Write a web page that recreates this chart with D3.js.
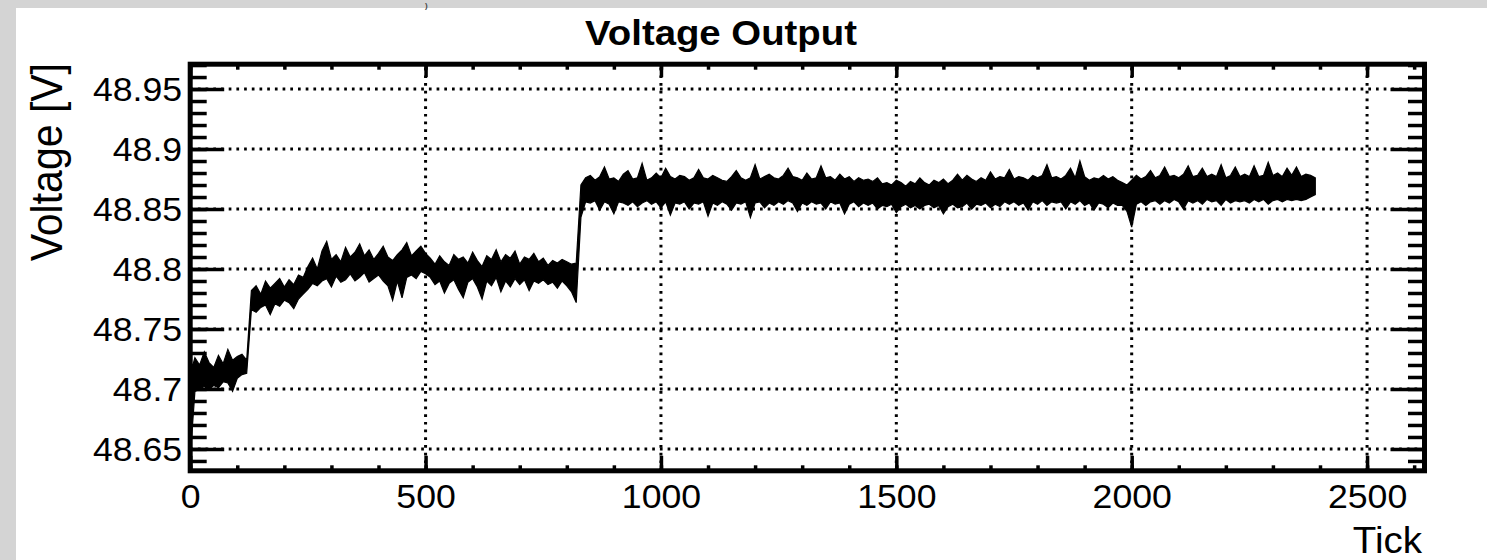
<!DOCTYPE html>
<html>
<head>
<meta charset="utf-8">
<script src="https://cdn.jsdelivr.net/npm/d3@7"></script>
<style>
	body { margin: 0; background: #fff; }
	svg { display: block; font-family: "Liberation Sans", Arial, sans-serif; }
</style>
</head>
<body>
<svg id="chart" width="1487" height="560"></svg>
<script>
/////
// Data (one envelope pair every 10 ticks)
/////

const tickStep = 10;

// upper edge of the trace
const voltHigh = [
	48.712, 48.726, 48.720, 48.731, 48.722, 48.718, 48.728, 48.721, 48.733, 48.724, 48.727, 48.729, 48.724,
	48.782, 48.786, 48.779, 48.790, 48.784, 48.788, 48.792, 48.785, 48.791, 48.787, 48.795, 48.793,
	48.802, 48.809, 48.800, 48.815, 48.823, 48.808, 48.812, 48.806, 48.818, 48.810, 48.814, 48.821, 48.811,
	48.816, 48.808, 48.813, 48.819, 48.810, 48.807, 48.812, 48.816, 48.822, 48.811, 48.815, 48.819, 48.813,
	48.809, 48.804, 48.811, 48.806, 48.803, 48.812, 48.808, 48.810, 48.805, 48.814, 48.807, 48.802, 48.811,
	48.808, 48.816, 48.806, 48.812, 48.809, 48.815, 48.804, 48.810, 48.808, 48.813, 48.806, 48.809, 48.803,
	48.807, 48.805, 48.808, 48.806, 48.804, 48.805,
	48.870,
	48.876, 48.878, 48.874, 48.877, 48.885, 48.875, 48.876, 48.873, 48.879, 48.882,
	48.875, 48.876, 48.888, 48.874, 48.876, 48.880, 48.876, 48.884, 48.877, 48.875,
	48.878, 48.877, 48.874, 48.876, 48.883, 48.876, 48.875, 48.878, 48.876, 48.874,
	48.873, 48.877, 48.882, 48.876, 48.874, 48.876, 48.887, 48.875, 48.877, 48.879,
	48.876, 48.875, 48.878, 48.884, 48.877, 48.876, 48.874, 48.880, 48.875, 48.876,
	48.886, 48.876, 48.877, 48.874, 48.879, 48.875, 48.877, 48.873, 48.876, 48.874,
	48.875, 48.873, 48.876, 48.871, 48.872, 48.870, 48.874, 48.872, 48.869, 48.873,
	48.871, 48.876, 48.872, 48.870, 48.874, 48.872, 48.875, 48.871, 48.874, 48.879,
	48.874, 48.878, 48.875, 48.873, 48.876, 48.874, 48.881, 48.875, 48.877, 48.876,
	48.883, 48.875, 48.877, 48.876, 48.874, 48.878, 48.876, 48.878, 48.887, 48.876,
	48.877, 48.875, 48.878, 48.884, 48.876, 48.890, 48.877, 48.874, 48.876, 48.875,
	48.878, 48.875, 48.877, 48.874, 48.872, 48.870, 48.874, 48.878, 48.875, 48.877,
	48.882, 48.876, 48.878, 48.885, 48.877, 48.878, 48.876, 48.879, 48.886, 48.877,
	48.878, 48.884, 48.877, 48.879, 48.877, 48.887, 48.876, 48.878, 48.885, 48.877,
	48.879, 48.877, 48.886, 48.877, 48.878, 48.889, 48.878, 48.880, 48.877, 48.884,
	48.878, 48.885, 48.877, 48.879, 48.878, 48.876
];

// lower edge of the trace
const voltLow = [
	48.643, 48.698, 48.700, 48.702, 48.699, 48.703, 48.701, 48.706, 48.705, 48.698, 48.709, 48.712, 48.713,
	48.766, 48.764, 48.768, 48.770, 48.762, 48.771, 48.769, 48.774, 48.772, 48.767, 48.775, 48.779,
	48.783, 48.788, 48.786, 48.790, 48.792, 48.785, 48.794, 48.789, 48.791, 48.796, 48.790, 48.793, 48.797,
	48.789, 48.792, 48.795, 48.790, 48.786, 48.774, 48.790, 48.776, 48.793, 48.795, 48.792, 48.798, 48.796,
	48.793, 48.787, 48.790, 48.780, 48.788, 48.791, 48.783, 48.776, 48.789, 48.792, 48.785, 48.775, 48.790,
	48.786, 48.793, 48.781, 48.790, 48.785, 48.792, 48.787, 48.791, 48.782, 48.790, 48.788, 48.791, 48.787,
	48.789, 48.784, 48.790, 48.786, 48.781, 48.772,
	48.843,
	48.856, 48.855, 48.857, 48.849, 48.856, 48.854, 48.846, 48.856, 48.855, 48.853,
	48.856, 48.852, 48.855, 48.857, 48.854, 48.856, 48.851, 48.856, 48.845, 48.855,
	48.854, 48.856, 48.850, 48.855, 48.854, 48.856, 48.844, 48.855, 48.853, 48.856,
	48.854, 48.849, 48.855, 48.854, 48.856, 48.843, 48.855, 48.856, 48.851, 48.855,
	48.853, 48.856, 48.854, 48.857, 48.855, 48.848, 48.855, 48.853, 48.856, 48.854,
	48.855, 48.850, 48.856, 48.854, 48.855, 48.846, 48.854, 48.856, 48.852, 48.855,
	48.853, 48.855, 48.850, 48.853, 48.852, 48.854, 48.847, 48.852, 48.854, 48.851,
	48.853, 48.850, 48.853, 48.854, 48.851, 48.853, 48.846, 48.852, 48.854, 48.851,
	48.852, 48.855, 48.850, 48.854, 48.853, 48.855, 48.851, 48.854, 48.852, 48.856,
	48.854, 48.856, 48.853, 48.855, 48.849, 48.856, 48.854, 48.857, 48.853, 48.856,
	48.855, 48.856, 48.850, 48.856, 48.854, 48.857, 48.853, 48.855, 48.849, 48.855,
	48.854, 48.851, 48.855, 48.853, 48.853, 48.848, 48.835, 48.854, 48.856, 48.853,
	48.856, 48.857, 48.854, 48.857, 48.855, 48.858, 48.856, 48.850, 48.857, 48.855,
	48.857, 48.854, 48.858, 48.856, 48.857, 48.853, 48.858, 48.855, 48.857, 48.856,
	48.857, 48.855, 48.858, 48.856, 48.858, 48.854, 48.857, 48.858, 48.856, 48.858,
	48.857, 48.858, 48.857, 48.858, 48.860, 48.862
];

const xTickValues = [0, 500, 1000, 1500, 2000, 2500];
const xTickLabels = ["0", "500", "1000", "1500", "2000", "2500"];
const yTickValues = [48.65, 48.7, 48.75, 48.8, 48.85, 48.9, 48.95];
const yTickLabels = ["48.65", "48.7", "48.75", "48.8", "48.85", "48.9", "48.95"];

const chartTitle = "Voltage Output";
const xTitle = "Tick";
const yTitle = "Voltage [V]";

/////
// Layout
/////

const svg = d3.select("#chart");
const width = 1487, height = 560;
const frame = { left: 190.2, right: 1424.5, top: 64.2, bottom: 470.8 };
const textStretch = 1.08;

const x = d3.scaleLinear()
	.domain([0, 2622])
	.range([frame.left, frame.right]);

const y = d3.scaleLinear()
	.domain([48.6318, 48.9707])
	.range([frame.bottom, frame.top]);

// grey page edges
svg.append("rect").attr("width", width).attr("height", height).attr("fill", "#fff");
svg.append("rect").attr("x", 0).attr("y", 0).attr("width", 16).attr("height", height).attr("fill", "#d4d4d4");
svg.append("rect").attr("x", 0).attr("y", 0).attr("width", width).attr("height", 8).attr("fill", "#d4d4d4");
svg.append("text")
	.attr("x", 425)
	.attr("y", 8)
	.attr("font-size", 8)
	.attr("font-weight", "bold")
	.attr("fill", "#444")
	.text(")");

// grid
const grid = svg.append("g").attr("class", "grid")
	.attr("stroke", "#000")
	.attr("stroke-width", 3)
	.attr("stroke-dasharray", "2.7,5");

grid.selectAll("line.gx")
	.data(xTickValues.filter(d => d > 0))
	.enter()
	.append("line")
	.attr("class", "gx")
	.attr("x1", d => x(d)).attr("x2", d => x(d))
	.attr("y1", frame.bottom).attr("y2", frame.top);

grid.selectAll("line.gy")
	.data(yTickValues)
	.enter()
	.append("line")
	.attr("class", "gy")
	.attr("y1", d => y(d)).attr("y2", d => y(d))
	.attr("x1", frame.left).attr("x2", frame.right);

// trace
const bandData = voltHigh.map((hi, i) => ({ tick: i * tickStep, hi: hi, lo: voltLow[i] }));

const band = d3.area()
	.x(d => x(d.tick))
	.y0(d => y(d.lo))
	.y1(d => y(d.hi));

svg.append("path")
	.datum(bandData)
	.attr("d", band)
	.attr("fill", "#000")
	.attr("stroke", "#000")
	.attr("stroke-width", 1.2)
	.attr("stroke-linejoin", "miter");

/////
// Axes (ROOT style: ticks inside, mirrored on all four sides)
/////

const xMinor = d3.range(0, 2700, 100);
const yMinor = d3.range(4864, 4898).map(d => d / 100);

function noDomain(g) {
	g.select(".domain").remove();
	g.selectAll(".tick line").attr("stroke-width", 3.5);
}

// bottom
svg.append("g")
	.attr("transform", `translate(0,${frame.bottom})`)
	.call(d3.axisBottom(x).tickValues(xMinor).tickSize(-5.5).tickFormat(""))
	.call(noDomain);
svg.append("g")
	.attr("transform", `translate(0,${frame.bottom})`)
	.call(d3.axisBottom(x).tickValues(xTickValues).tickSize(-15).tickPadding(14)
		.tickFormat((d, i) => xTickLabels[i]))
	.call(noDomain)
	.call(g => g.selectAll("text")
		.attr("font-size", 33)
		.attr("fill", "#000")
		.attr("font-family", null)
		.attr("transform", `scale(${textStretch},1)`));

// top
svg.append("g")
	.attr("transform", `translate(0,${frame.top})`)
	.call(d3.axisTop(x).tickValues(xMinor).tickSize(-5.5).tickFormat(""))
	.call(noDomain);
svg.append("g")
	.attr("transform", `translate(0,${frame.top})`)
	.call(d3.axisTop(x).tickValues(xTickValues).tickSize(-13).tickFormat(""))
	.call(noDomain);

// left
svg.append("g")
	.attr("transform", `translate(${frame.left},0)`)
	.call(d3.axisLeft(y).tickValues(yMinor).tickSize(-16.5).tickFormat(""))
	.call(noDomain);
svg.append("g")
	.attr("transform", `translate(${frame.left},0)`)
	.call(d3.axisLeft(y).tickValues(yTickValues).tickSize(-34).tickPadding(7.5)
		.tickFormat((d, i) => yTickLabels[i]))
	.call(noDomain)
	.call(g => g.selectAll("text")
		.attr("font-size", 33)
		.attr("fill", "#000")
		.attr("font-family", null)
		.attr("dy", "0.36em")
		.attr("transform", `scale(${textStretch},1)`));

// right
svg.append("g")
	.attr("transform", `translate(${frame.right},0)`)
	.call(d3.axisRight(y).tickValues(yMinor).tickSize(-16.5).tickFormat(""))
	.call(noDomain);
svg.append("g")
	.attr("transform", `translate(${frame.right},0)`)
	.call(d3.axisRight(y).tickValues(yTickValues).tickSize(-34).tickFormat(""))
	.call(noDomain);

// frame
svg.append("rect")
	.attr("x", frame.left)
	.attr("y", frame.top)
	.attr("width", frame.right - frame.left)
	.attr("height", frame.bottom - frame.top)
	.attr("fill", "none")
	.attr("stroke", "#000")
	.attr("stroke-width", 5);

/////
// Titles
/////

svg.append("text")
	.attr("transform", `translate(721,45) scale(${textStretch},1)`)
	.attr("text-anchor", "middle")
	.attr("font-size", 35.5)
	.attr("font-weight", "bold")
	.text(chartTitle);

svg.append("text")
	.attr("transform", `translate(1422,553) scale(1.07,1)`)
	.attr("text-anchor", "end")
	.attr("font-size", 36)
	.text(xTitle);

svg.append("text")
	.attr("transform", `translate(62,63) scale(${textStretch},1) rotate(-90)`)
	.attr("text-anchor", "end")
	.attr("font-size", 41)
	.text(yTitle);
</script>
</body>
</html>
